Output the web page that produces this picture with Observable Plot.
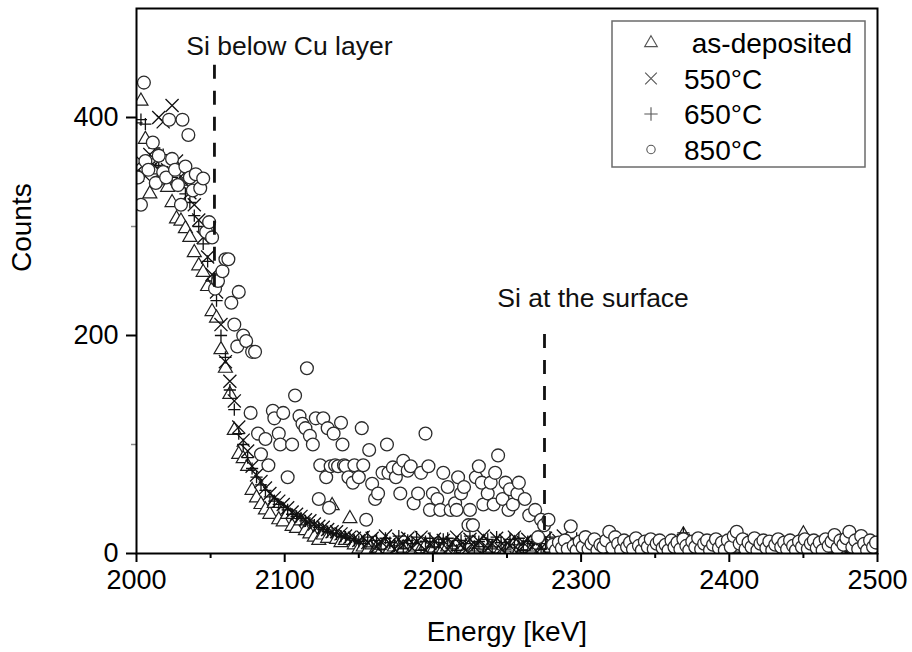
<!DOCTYPE html>
<html><head><meta charset="utf-8">
<script src="https://cdn.jsdelivr.net/npm/d3@7"></script>
<script src="https://cdn.jsdelivr.net/npm/@observablehq/plot@0.6"></script>
<style>
body{margin:0;background:#fff;font-family:"Liberation Sans",Arial,sans-serif;}
#wrap{position:relative;width:912px;height:652px;}
</style></head><body><div id="wrap"></div>
<script>
// channel energies (keV) shared by the as-deposited, 550°C and 650°C spectra
const channelEnergy = [
2000,2003,2006,2009,2012,2015,2018,2021,2024,2027,
2030,2033,2036,2039,2042,2045,2048,2051,2054,2057,
2060,2063,2066,2069,2072,2075,2078,2081,2084,2087,
2090,2093,2096,2099,2102,2105,2108,2111,2114,2117,
2120,2123,2126,2129,2132,2135,2138,2141,2144,2147,
2150,2153,2156,2159,2162,2165,2168,2171,2174,2177,
2180,2183,2186,2189,2192,2195,2198,2201,2204,2207,
2210,2213,2216,2219,2222,2225,2228,2231,2234,2237,
2240,2243,2246,2249,2252,2255,2258,2261,2264,2267,
2270,2273,2276,2279,2282,2285,2288,2291,2294,2297,
2300,2303,2306,2309,2312,2315,2318,2321,2324,2327,
2330,2333,2336,2339,2342,2345,2348,2351,2354,2357,
2360,2363,2366,2369,2372,2375,2378,2381,2384,2387,
2390,2393,2396,2399,2402,2405,2408,2411,2414,2417,
2420,2423,2426,2429,2432,2435,2438,2441,2444,2447,
2450,2453,2456,2459,2462,2465,2468,2471,2474,2477,
2480,2483,2486,2489,2492,2495,2498];

const countsAsDeposited = [
345,415,380,330,352,342,348,336,322,307,
305,298,290,276,264,258,245,222,216,187,
170,146,113,91,87,80,58,51,45,40,
36,46,31,29,36,25,23,30,21,18,
15,12,17,14,44,13,10,12,32,8,
4,6,3,8,5,2,7,4,6,3,
5,8,3,6,4,7,2,5,9,4,
6,3,8,5,2,7,4,6,10,3,
5,8,4,2,6,9,3,5,7,4,
6,3,8,5,2,7,4,9,3,6,
12,5,3,7,4,8,2,6,10,4,
5,7,3,9,4,6,2,8,5,3,
7,4,10,17,6,3,8,5,2,7,
4,9,6,3,8,5,11,4,7,2,
6,9,3,5,8,4,7,10,5,3,
18,6,4,8,3,7,5,9,4,6,
8,3,6,10,4,7,5];

const counts550 = [
350,360,346,366,356,400,396,352,411,360,
346,340,331,320,306,290,272,256,240,210,
176,158,140,116,104,94,80,72,66,60,
55,51,48,45,42,38,36,34,31,30,
27,25,24,22,20,20,18,16,15,14,
12,15,10,14,6,11,16,9,4,13,
8,14,5,11,15,3,9,13,7,12,
4,10,15,8,3,13,6,11,16,5,
9,14,4,12,7,15,3,10,13,6,
11,5,14,8,3,12,16,6,9,4,
5,8,6,9,4,7,10,6,8,5,
7,9,6,4,8,6,10,5,7,9,
6,8,5,12,7,9,6,4,8,7,
10,6,8,5,9,7,12,6,8,5,
7,9,6,8,5,10,7,6,9,8,
6,11,7,5,9,8,6,10,7,5,
9,7,8,6,10,7,9];

const counts650 = [
395,398,394,362,372,356,366,350,345,340,
338,330,322,310,300,284,268,250,232,200,
180,150,132,110,100,88,78,70,63,58,
52,48,45,42,40,36,34,32,30,28,
26,24,22,20,19,18,16,15,14,12,
11,9,15,6,12,4,14,10,7,16,
5,12,9,15,3,11,14,6,10,13,
14,7,3,12,9,16,5,11,4,13,
6,15,10,4,13,8,14,3,11,9,
13,4,9,15,6,10,3,12,7,14,
9,6,7,5,8,10,6,7,9,5,
8,6,9,7,5,8,6,10,7,6,
9,5,8,19,6,7,9,5,8,6,
7,10,5,8,6,9,7,5,10,6,
8,6,9,7,5,8,10,6,7,9,
5,8,6,10,7,5,9,6,8,7,
6,9,5,8,7,10,6];

// 850°C spectrum: [energy keV, counts]
const points850 = [
[2001,345],[2003,320],[2005,432],[2006,360],[2008,352],[2011,377],[2013,340],[2015,365],[2018,350],[2020,345],
[2022,398],[2024,362],[2026,352],[2028,338],[2030,320],[2031,398],[2033,355],[2035,384],[2036,345],[2038,333],
[2040,348],[2043,335],[2045,344],[2047,295],[2049,304],[2051,290],[2053,243],[2055,250],[2058,259],[2060,270],
[2062,270],[2064,230],[2066,210],[2068,190],[2069,240],[2072,200],[2074,195],[2077,129],[2078,185],[2080,185],
[2082,110],[2084,91],[2087,105],[2089,81],[2092,131],[2093,124],[2096,110],[2097,100],[2099,129],[2102,70],
[2105,100],[2107,145],[2110,126],[2112,119],[2114,115],[2115,170],[2117,108],[2119,100],[2121,124],[2123,50],
[2124,81],[2126,124],[2128,70],[2129,115],[2130,42],[2131,80],[2133,110],[2134,81],[2136,80],[2138,120],
[2139,100],[2140,81],[2141,80],[2143,70],[2146,65],[2147,81],[2150,70],[2152,115],[2153,81],[2155,31],
[2157,95],[2159,64],[2161,50],[2163,55],[2166,74],[2169,100],[2170,74],[2173,79],[2175,70],[2177,78],
[2178,55],[2180,85],[2183,76],[2185,80],[2187,46],[2190,55],[2192,74],[2195,110],[2197,80],[2198,40],
[2200,55],[2203,50],[2205,40],[2207,74],[2210,61],[2212,40],[2215,46],[2216,40],[2217,70],[2219,55],
[2221,61],[2224,26],[2225,40],[2227,26],[2229,70],[2231,80],[2233,65],[2234,45],[2237,55],[2239,65],
[2241,45],[2242,74],[2244,90],[2247,50],[2249,65],[2251,40],[2252,59],[2254,45],[2257,55],[2258,65],
[2262,50],[2265,35],[2269,40],[2271,15],[2273,31],[2275,26],[2278,31],
[2281,8],[2283,3],[2285,10],[2287,5],[2289,12],[2291,4],[2293,25],[2295,7],[2297,3],[2299,11],
[2301,6],[2303,15],[2305,4],[2307,9],[2309,13],[2311,3],[2313,8],[2315,6],[2317,12],[2319,20],
[2321,5],[2323,15],[2325,9],[2327,3],[2329,12],[2331,6],[2333,10],[2335,4],[2337,14],[2339,7],
[2341,3],[2343,11],[2345,6],[2347,13],[2349,4],[2351,9],[2353,12],[2355,5],[2357,8],[2359,3],
[2361,12],[2363,6],[2365,10],[2367,4],[2369,13],[2371,7],[2373,3],[2375,11],[2377,6],[2379,14],
[2381,4],[2383,9],[2385,12],[2387,3],[2389,8],[2391,13],[2393,5],[2395,10],[2397,3],[2399,12],
[2401,6],[2403,16],[2405,20],[2407,9],[2409,13],[2411,4],[2413,10],[2415,6],[2417,14],[2419,3],
[2421,9],[2423,12],[2425,5],[2427,11],[2429,3],[2431,8],[2433,13],[2435,6],[2437,10],[2439,4],
[2441,12],[2443,7],[2445,3],[2447,11],[2449,6],[2451,13],[2453,4],[2455,9],[2457,12],[2459,5],
[2461,10],[2463,3],[2465,13],[2467,7],[2469,11],[2471,17],[2473,5],[2475,12],[2477,8],[2479,14],
[2481,20],[2483,6],[2485,12],[2487,4],[2489,16],[2491,9],[2493,3],[2495,12],[2497,6],[2499,10]];

const seriesLabels = [" as-deposited", "550\u00B0C", "650\u00B0C", "850\u00B0C"];
const xTicks = [2000, 2100, 2200, 2300, 2400, 2500];
const xMinorTicks = [2050, 2150, 2250, 2350, 2450];
const yTicks = [0, 200, 400];
const yMinorTicks = [100, 300];
const annotations = [
  {label: "Si below Cu layer", energy: 2052.6, from: 448, to: 240, textEnergy: 2033.6, textCounts: 457},
  {label: "Si at the surface", energy: 2275.3, from: 201, to: 10, textEnergy: 2243.5, textCounts: 226}
];
const xLabel = "Energy [keV]";
const yLabel = "Counts";

const toRows = (E, C) => E.map((e, i) => ({E: e, C: C[i]}));
const asDep = toRows(channelEnergy, countsAsDeposited);
const s550 = toRows(channelEnergy, counts550);
const s650 = toRows(channelEnergy, counts650);
const s850 = points850.map(([e, c]) => ({E: e, C: c}));

const font = "'Liberation Sans', Arial, sans-serif";
const chart = Plot.plot({
  width: 912, height: 652,
  marginLeft: 136, marginRight: 35, marginTop: 8, marginBottom: 99,
  x: {domain: [2000, 2500], label: null},
  y: {domain: [0, 500], label: null},
  style: {fontFamily: font, background: "white", color: "black", overflow: "visible"},
  marks: [
    Plot.dot(asDep, {x: "E", y: "C", symbol: "triangle", r: 5.2, stroke: "#1f1f1f", strokeWidth: 1.2, fill: "white", clip: true}),
    Plot.dot(s550, {x: "E", y: "C", symbol: "times", r: 6, stroke: "#111", strokeWidth: 1.3, clip: true}),
    Plot.dot(s650, {x: "E", y: "C", symbol: "plus", r: 4, stroke: "#111", strokeWidth: 1.3, clip: true}),
    Plot.dot(s850, {x: "E", y: "C", symbol: "circle", r: 6.4, stroke: "#2b2b2b", strokeWidth: 1.3, fill: "white", clip: true}),
    Plot.ruleX(annotations, {x: "energy", y1: "from", y2: "to", stroke: "#111", strokeWidth: 2.8, strokeDasharray: "14,12"}),
    Plot.text(annotations, {x: "textEnergy", y: "textCounts", text: "label", textAnchor: "start", lineAnchor: "bottom", fontSize: 26.5, fill: "#111"}),
    Plot.axisX({ticks: xTicks, tickSize: 9, tickPadding: 7, fontSize: 27, strokeWidth: 2, tickFormat: d3.format("d"), label: null}),
    Plot.axisX({ticks: xMinorTicks, tickSize: 5, tickFormat: () => "", strokeWidth: 2, label: null}),
    Plot.axisY({ticks: yTicks, tickSize: 10, tickPadding: 8, fontSize: 27, strokeWidth: 2, tickFormat: d3.format("d"), label: null}),
    Plot.axisY({ticks: yMinorTicks, tickSize: 5, tickFormat: () => "", strokeWidth: 1.5, stroke: "#888", label: null}),
    Plot.frame({stroke: "black", strokeWidth: 2}),
    Plot.text([xLabel], {text: d => d, frameAnchor: "bottom", dy: 79, lineAnchor: "middle", fontSize: 28}),
    Plot.text([yLabel], {text: d => d, frameAnchor: "left", dx: -114, dy: -9, rotate: -90, lineAnchor: "middle", fontSize: 28})
  ]
});
document.getElementById("wrap").appendChild(chart);

// legend box inside the frame
const legend = d3.select("#wrap").append("svg")
  .attr("width", 257).attr("height", 149)
  .style("position", "absolute").style("left", "611px").style("top", "20px");
legend.append("rect").attr("x", 1).attr("y", 1).attr("width", 253).attr("height", 146)
  .attr("fill", "white").attr("stroke", "#6b6b6b").attr("stroke-width", 1.5);
const legendSymbols = [d3.symbolTriangle, d3.symbolTimes, d3.symbolPlus, d3.symbolCircle];
const legendSizes = [70, 90, 60, 55];
seriesLabels.forEach((lab, i) => {
  const cy = 23 + i * 35.5;
  legend.append("path").attr("d", d3.symbol(legendSymbols[i], legendSizes[i])())
    .attr("transform", `translate(40,${cy})`).attr("fill", "none").attr("stroke", "#555").attr("stroke-width", 1.1);
  legend.append("text").attr("x", 73).attr("y", cy).attr("dy", "0.36em")
    .style("font-family", font).style("font-size", "28px").style("white-space", "pre")
    .attr("xml:space", "preserve").text(lab);
});
</script></body></html>
